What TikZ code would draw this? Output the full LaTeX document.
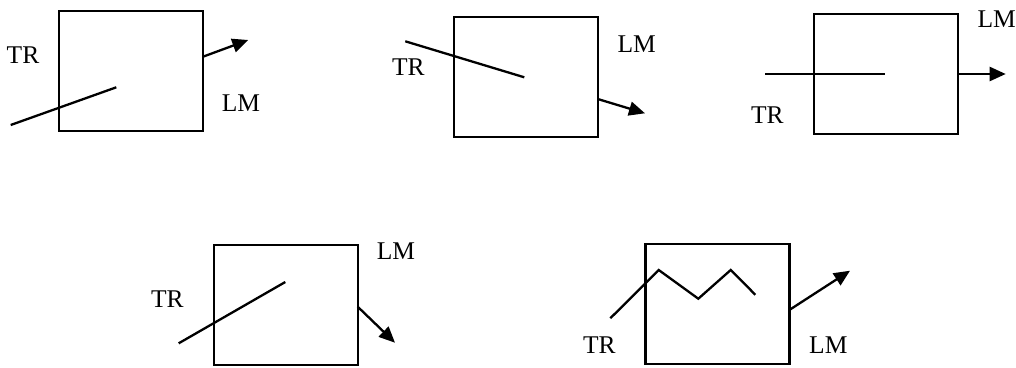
\documentclass[tikz,border=0pt]{standalone}
\usepackage{fontspec}
\setmainfont{Liberation Serif}
\usetikzlibrary{arrows.meta}
\begin{document}
\begin{tikzpicture}[x=1pt,y=-1pt,
  box/.style={draw=black, line width=2.3pt, minimum width=144pt, minimum height=120pt, inner sep=0pt},
  lbl/.style={inner sep=0pt, font=\fontsize{25.5}{30}\selectfont},
  ln/.style={line width=2.3pt},
  arr/.style={line width=2.3pt, -{Triangle[length=16pt,width=14pt]}}]
\useasboundingbox (0,0) rectangle (1016,367);
% Box 1
\node[box] (b1) at (131,71) {};
\node[lbl] (tr1) at (23,55) {TR};
\node[lbl] (lm1) at (241,103) {LM};
\coordinate (s1) at (10.7,125);
\coordinate (e1) at (116.3,87.3);
\coordinate (o1) at (203,56.7);
\coordinate (t1) at (248.3,40);
\draw[ln] (s1) -- (e1);
\draw[arr] (o1) -- (t1);
% Box 2
\node[box] (b2) at (525.7,77.2) {};
\node[lbl] (tr2) at (408.3,66.7) {TR};
\node[lbl] (lm2) at (636.7,44.3) {LM};
\coordinate (s2) at (405.3,41.3);
\coordinate (e2) at (524.3,77.3);
\coordinate (o2) at (597.7,99);
\coordinate (t2) at (645,113.3);
\draw[ln] (s2) -- (e2);
\draw[arr] (o2) -- (t2);
% Box 3
\node[box] (b3) at (885.8,74.3) {};
\node[lbl] (tr3) at (767.3,115) {TR};
\node[lbl] (lm3) at (996.7,19) {LM};
\coordinate (s3) at (765.3,74);
\coordinate (e3) at (884.7,74);
\coordinate (o3) at (958,74);
\coordinate (t3) at (1005.7,74);
\draw[ln] (s3) -- (e3);
\draw[arr] (o3) -- (t3);
% Box 4
\node[box] (b4) at (285.7,305) {};
\node[lbl] (tr4) at (167.3,299) {TR};
\node[lbl] (lm4) at (396,251) {LM};
\coordinate (s4) at (178.7,343.3);
\coordinate (e4) at (285.3,282);
\coordinate (o4) at (357.7,306.7);
\coordinate (t4) at (395,342.7);
\draw[ln] (s4) -- (e4);
\draw[arr] (o4) -- (t4);
% Box 5
\node[box] (b5) at (717.5,303.8) {};
\node[lbl] (tr5) at (599.3,345) {TR};
\node[lbl] (lm5) at (828.3,345) {LM};
\coordinate (z1) at (610.3,318.3);
\coordinate (z2) at (658.7,270);
\coordinate (z3) at (698.3,298.7);
\coordinate (z4) at (730.7,270);
\coordinate (z5) at (755.3,294.7);
\coordinate (o5) at (789.3,310);
\coordinate (t5) at (850,270.7);
\draw[ln] (z1) -- (z2) -- (z3) -- (z4) -- (z5);
\draw[arr] (o5) -- (t5);
\end{tikzpicture}
\end{document}
